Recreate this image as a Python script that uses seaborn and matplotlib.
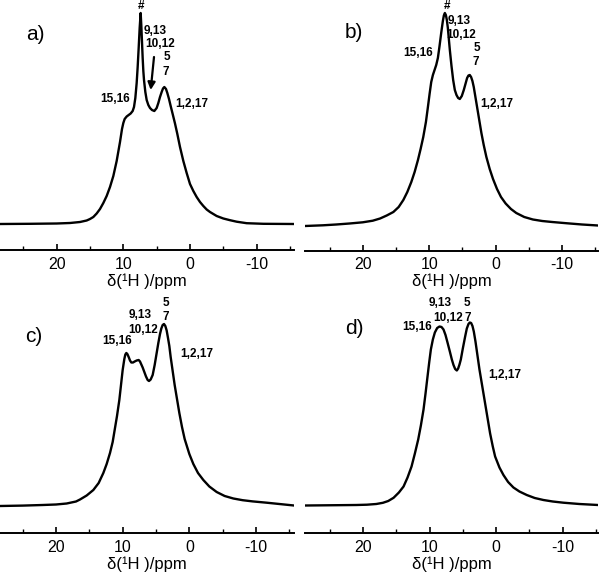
import matplotlib
matplotlib.use('Agg')

import seaborn as sns
import matplotlib.pyplot as plt
from matplotlib.ticker import MultipleLocator

# --- spectra (ppm, intensity in px above baseline) ---
ppm_a = [28.5, 24, 20, 18, 16.5, 15.5, 15, 14.5, 14, 13.5, 13, 12.5, 12, 11.5, 11, 10.5,
         10.2, 10, 9.8, 9.5, 9.2, 8.9, 8.6, 8.4, 8.2, 8.0, 7.85, 7.7, 7.55, 7.4, 7.3, 7.2,
         7.1, 7.0, 6.9, 6.7, 6.5, 6.25, 6.0, 5.7, 5.35, 5.0, 4.75, 4.5, 4.25, 4.05, 3.85,
         3.6, 3.4, 3.15, 2.9, 2.6, 2.25, 1.9, 1.5, 1.0, 0.5, 0, -0.5, -1, -1.5, -2, -2.5,
         -3, -4, -5, -6, -7, -8.5, -11, -15.6]
int_a = [0, 0.2, 0.5, 1, 2, 3.5, 5, 7, 10.5, 15, 21, 28, 37, 48, 63, 82,
         95, 101, 105, 107.5, 109, 110.5, 113, 117, 126, 141, 157, 176, 196, 211, 198, 182,
         166, 153, 144, 132, 124, 119, 116, 114, 113, 116, 121, 127, 132, 135.5, 137,
         135, 131, 125, 118, 110, 100.5, 90, 77, 63, 51, 40, 33, 27, 22, 18, 14.5,
         12, 8, 5.5, 3.8, 2.3, 0.8, 0.2, 0]

ppm_b = [28.7, 26, 24, 22, 20, 18.5, 17.4, 16.4, 15.4, 14.6, 13.9, 13.3, 12.7, 12.2, 11.7,
         11.3, 10.9, 10.5, 10.2, 9.95, 9.7, 9.45, 9.2, 8.95, 8.7, 8.45, 8.2, 7.95, 7.8, 7.65,
         7.5, 7.35, 7.2, 7.05, 6.9, 6.65, 6.4, 6.15, 5.9, 5.65, 5.4, 5.1, 4.8, 4.55, 4.3,
         4.1, 3.9, 3.7, 3.5, 3.3, 3.1, 2.8, 2.45, 2.15, 1.8, 1.4, 0.9, 0.4, -0.2, -0.8,
         -1.5, -2.3, -3.1, -4.3, -5.6, -7, -8.5, -10.6, -13, -15.4]
int_b = [0, 0.7, 1.5, 2.5, 3.7, 5.3, 7.5, 10.5, 14, 19, 26, 34, 44, 54, 66,
         77, 89, 104, 119, 132, 144, 151, 156, 161, 168, 180, 193, 205, 210.5, 213,
         211, 206, 198, 187, 176, 160, 146, 136, 131, 128, 127, 130, 136, 142, 148,
         150.5, 151, 149, 145, 139, 131, 119, 105, 93, 81, 69, 57, 47, 37, 29,
         22.5, 17, 13, 9, 6.5, 5, 4, 2.8, 1.5, 0.5]

ppm_c = [28.4, 25, 22, 20, 18.4, 17, 16.4, 15.4, 14.4, 13.6, 12.9, 12.4, 11.9, 11.5, 11.2,
         10.85, 10.5, 10.2, 10.0, 9.75, 9.6, 9.45, 9.3, 9.1, 8.9, 8.7, 8.45, 8.2, 7.9, 7.6,
         7.4, 7.2, 7.0, 6.75, 6.5, 6.25, 6.05, 5.8, 5.5, 5.2, 4.9, 4.65, 4.4, 4.2, 4.0, 3.8,
         3.6, 3.4, 3.2, 3.0, 2.8, 2.5, 2.2, 1.85, 1.5, 1.1, 0.7, 0.0, -0.6, -1.3, -2.1, -3,
         -4.1, -5.3, -6.6, -8, -9.5, -11.6, -13.5, -15.7]
int_c = [0, 0.4, 1, 1.5, 2.5, 4.5, 6.5, 10.5, 16, 23, 33, 42, 53, 64, 76,
         90, 106, 124, 136, 147, 151.5, 153, 152, 149, 145.5, 143.5, 143.5, 144.5, 145.5, 146,
         144.5, 141.5, 138.5, 134, 129.5, 126, 125, 126.5, 131, 141, 153, 163, 172, 177.5, 181, 182,
         180, 175.5, 168, 160, 149, 135, 121, 107, 93, 79, 67, 52, 42, 33, 26, 19.5,
         14, 10, 7.5, 5.8, 4.6, 3.3, 2, 0.5]

ppm_d = [28.7, 24, 21, 19.4, 18, 17, 16.2, 15.4, 14.6, 13.9, 13.3, 12.7, 12.2, 11.7, 11.3,
         10.9, 10.6, 10.3, 10.05, 9.8, 9.5, 9.2, 8.85, 8.5, 8.2, 7.9, 7.6, 7.3, 6.95, 6.65,
         6.4, 6.15, 5.9, 5.7, 5.5, 5.3, 5.0, 4.65, 4.4, 4.15, 3.95, 3.75, 3.55, 3.35, 3.1,
         2.8, 2.5, 2.15, 1.8, 1.5, 1.2, 0.9, 0.5, 0.15, -0.5, -1.1, -1.8, -2.6, -3.5, -4.6,
         -5.8, -7.1, -8.5, -10.1, -12.5, -15.3]
int_d = [0, 0.3, 0.5, 0.8, 1.5, 2.7, 4.5, 7.7, 13, 19, 28, 39, 52, 66, 80,
         96, 112, 129, 143, 156, 166, 173, 177.5, 179, 178.5, 176, 170.5, 163, 154, 146,
         140.5, 136.5, 135, 137, 141, 146, 157, 169, 177, 181.5, 183, 182.5, 179.5, 174, 164,
         150, 136, 122, 108, 96, 84, 72, 59, 49, 38, 30.5, 23.5, 18, 14, 10.5,
         7.5, 5.5, 4, 2.8, 1.5, 0.5]

major_ticks = [20, 10, 0, -10]
xlabel = "δ(¹H )/ppm"

W, H = 600, 572


def fp(x, y):
    # pixel position -> figure fraction
    return (x / W, 1 - y / H)


sns.set_style('ticks')
plt.rcParams['font.family'] = ['Liberation Sans', 'DejaVu Sans']
plt.rcParams['axes.unicode_minus'] = False
plt.rcParams['text.color'] = 'black'
plt.rcParams['axes.labelcolor'] = 'black'
plt.rcParams['xtick.color'] = 'black'
plt.rcParams['axes.edgecolor'] = 'black'

fig = plt.figure(figsize=(W / 100, H / 100), dpi=100)

# left px, right px, top px, spine px, baseline px, xlim, data, letter, letter pos
panels = [
    (0, 294, 5, 250, 224, (28.5, -15.6), ppm_a, int_a, 'a)', (35, 34)),
    (305, 598, 5, 250.5, 226, (28.7, -15.4), ppm_b, int_b, 'b)', (354, 33)),
    (0, 294, 290, 533, 506, (28.4, -15.7), ppm_c, int_c, 'c)', (34, 337)),
    (305, 598, 290, 533, 505.5, (28.7, -15.3), ppm_d, int_d, 'd)', (354, 329)),
]

for (x0, x1, top, spine, base, xlim, xs, ys, letter, lpos) in panels:
    left, bottom = fp(x0, spine)
    ax = fig.add_axes([left, bottom, (x1 - x0) / W, (spine - top) / H])
    sns.lineplot(x=xs, y=ys, ax=ax, color='black', linewidth=1.7, estimator=None)
    ax.set_xlim(*xlim)
    ax.set_ylim(-(spine - base), base - top)
    ax.set_yticks([])
    for s in ['top', 'left', 'right']:
        ax.spines[s].set_visible(False)
    ax.spines['bottom'].set_linewidth(1.4)
    ax.set_xticks(major_ticks)
    ax.xaxis.set_minor_locator(MultipleLocator(5))
    ax.tick_params(axis='x', which='major', direction='in', length=4, width=1.2,
                   labelsize=11.5, pad=5)
    ax.tick_params(axis='x', which='minor', direction='in', length=3, width=1.0)
    ax.set_xlabel(xlabel, fontsize=12, labelpad=1)
    ax.set_facecolor('white')
    fig.text(*fp(*lpos), letter, fontsize=15, ha='center', va='center')

# --- peak labels (pixel positions) ---
labels = [
    ('#', 141, 6), ('9,13', 155, 31), ('10,12', 160, 44), ('5', 167, 57), ('7', 166, 72),
    ('15,16', 115, 99), ('1,2,17', 192, 104),
    ('#', 447, 6), ('9,13', 459, 21), ('10,12', 461, 35), ('5', 477, 48), ('7', 476, 62),
    ('15,16', 418, 53), ('1,2,17', 497, 104),
    ('5', 165.5, 303), ('7', 165.5, 317), ('9,13', 140, 315), ('10,12', 143, 330),
    ('15,16', 117.5, 341), ('1,2,17', 197, 354),
    ('9,13', 440, 303), ('5', 467, 303), ('10,12', 448, 318), ('7', 468, 318),
    ('15,16', 417, 327), ('1,2,17', 505, 375),
]
for txt, x, y in labels:
    fig.text(*fp(x, y), txt, fontsize=8.5, fontweight='bold', ha='center', va='center')

arrows = [((154, 57), (150.7, 90)), ((463.3, 43), (459, 77)), ((146.7, 333), (141.7, 362))]
for start, tip in arrows:
    fig.axes[0].annotate('', xy=fp(*tip), xytext=fp(*start),
                         xycoords='figure fraction', textcoords='figure fraction',
                         arrowprops=dict(arrowstyle='-|>', color='black', lw=1.6,
                                         mutation_scale=11, shrinkA=0, shrinkB=0),
                         annotation_clip=False)

fig.savefig('out.png', dpi=100, facecolor='white')
plt.close()
